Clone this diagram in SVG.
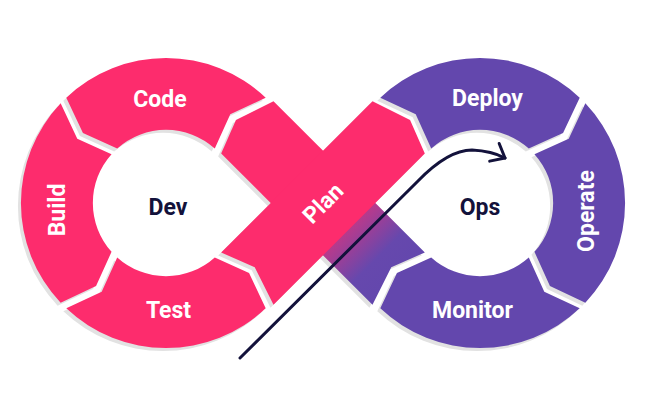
<svg xmlns="http://www.w3.org/2000/svg" xmlns:xlink="http://www.w3.org/1999/xlink" width="648" height="419" viewBox="0 0 648 419">
<defs>
<style>
.pk{fill:#fd2c6d}
.pu{fill:#6347ad}
.sh{fill:#e2e2e2}
.lbl{font-family:Roboto,"Liberation Sans",sans-serif;font-weight:700;font-size:23px;fill:#ffffff;text-anchor:middle}
.ctr{fill:#13123b}
.conn{fill:none;stroke:#13123b;stroke-width:3;stroke-linecap:round;stroke-linejoin:round}
</style>
<linearGradient id="gA" gradientUnits="userSpaceOnUse" x1="349" y1="229" x2="401" y2="281">
<stop offset="0" stop-color="#b83a8c"/>
<stop offset="0.55" stop-color="#6648ad"/>
<stop offset="1" stop-color="#6347ad"/>
</linearGradient>
<marker id="ah" viewBox="-15 -13 18 26" markerWidth="18" markerHeight="26" refX="0" refY="0" orient="auto" markerUnits="userSpaceOnUse">
<path d="M-12,-10 L0,0 L-12,10" class="conn"/>
</marker>
<path id="p-code" d="M66.30,97.64 A145,145 0 0 1 265.70,97.64 L230.28,114.28 L214.79,148.55 A73,73 0 0 0 117.21,148.55 L82.94,133.06 Z"/>
<path id="p-build" d="M60.64,302.70 A145,145 0 0 1 60.64,103.30 L77.28,138.72 L111.55,154.21 A73,73 0 0 0 111.55,251.79 L96.06,286.06 Z"/>
<path id="p-test" d="M265.70,308.36 A145,145 0 0 1 66.30,308.36 L101.72,291.72 L117.21,257.45 A73,73 0 0 0 214.79,257.45 L249.06,272.94 Z"/>
<path id="p-deploy" d="M380.30,97.64 A145,145 0 0 1 579.70,97.64 L563.06,133.06 L528.79,148.55 A73,73 0 0 0 431.21,148.55 L415.72,114.28 Z"/>
<path id="p-operate" d="M585.36,103.30 A145,145 0 0 1 585.36,302.70 L549.94,286.06 L534.45,251.79 A73,73 0 0 0 534.45,154.21 L568.72,138.72 Z"/>
<path id="p-monitor" d="M579.70,308.36 A145,145 0 0 1 380.30,308.36 L396.94,272.94 L431.21,257.45 A73,73 0 0 0 528.79,257.45 L544.28,291.72 Z"/>
<path id="p-xa1" d="M273.50,101.18 L349.16,176.84 L296.84,229.16 L221.18,153.50 L235.94,119.94 Z"/>
<path id="p-xa2" d="M349.16,176.84 L424.82,252.50 L391.28,267.28 L372.50,304.82 L296.84,229.16 Z"/>
<path id="p-xb" d="M221.18,252.50 L372.50,101.18 L410.06,119.94 L424.82,153.50 L273.50,304.82 L254.72,267.28 Z"/>
</defs>

<g id="shadows" class="sh" transform="translate(-3,3)">
<use xlink:href="#p-code" href="#p-code"/>
<use xlink:href="#p-build" href="#p-build"/>
<use xlink:href="#p-test" href="#p-test"/>
<use xlink:href="#p-deploy" href="#p-deploy"/>
<use xlink:href="#p-operate" href="#p-operate"/>
<use xlink:href="#p-monitor" href="#p-monitor"/>
<use xlink:href="#p-xa1" href="#p-xa1"/>
<use xlink:href="#p-xa2" href="#p-xa2"/>
<use xlink:href="#p-xb" href="#p-xb"/>
</g>

<g id="code">
<use xlink:href="#p-code" href="#p-code" class="pk"/>
<text class="lbl" x="160" y="107">Code</text>
</g>
<g id="build">
<use xlink:href="#p-build" href="#p-build" class="pk"/>
<text class="lbl" transform="translate(65,210) rotate(-90)" x="0" y="0">Build</text>
</g>
<g id="test">
<use xlink:href="#p-test" href="#p-test" class="pk"/>
<text class="lbl" x="168.5" y="318">Test</text>
</g>
<g id="deploy">
<use xlink:href="#p-deploy" href="#p-deploy" class="pu"/>
<text class="lbl" x="487.5" y="106">Deploy</text>
</g>
<g id="operate">
<use xlink:href="#p-operate" href="#p-operate" class="pu"/>
<text class="lbl" transform="translate(594,211) rotate(-90)" x="0" y="0">Operate</text>
</g>
<g id="monitor">
<use xlink:href="#p-monitor" href="#p-monitor" class="pu"/>
<text class="lbl" x="472.5" y="318">Monitor</text>
</g>
<g id="plan">
<use xlink:href="#p-xa1" href="#p-xa1" class="pk"/>
<use xlink:href="#p-xa2" href="#p-xa2" fill="url(#gA)"/>
<use xlink:href="#p-xb" href="#p-xb" class="pk"/>
<text class="lbl" transform="translate(323,203) rotate(-45)" x="0" y="8">Plan</text>
</g>
<g id="dev">
<text class="lbl ctr" x="168" y="215">Dev</text>
</g>
<g id="ops">
<text class="lbl ctr" x="480" y="215">Ops</text>
</g>

<g id="connectors">
<path class="conn" d="M240,358 L418,181 Q448,150 472,150 Q492,151 505,158" marker-end="url(#ah)"/>
</g>
</svg>
